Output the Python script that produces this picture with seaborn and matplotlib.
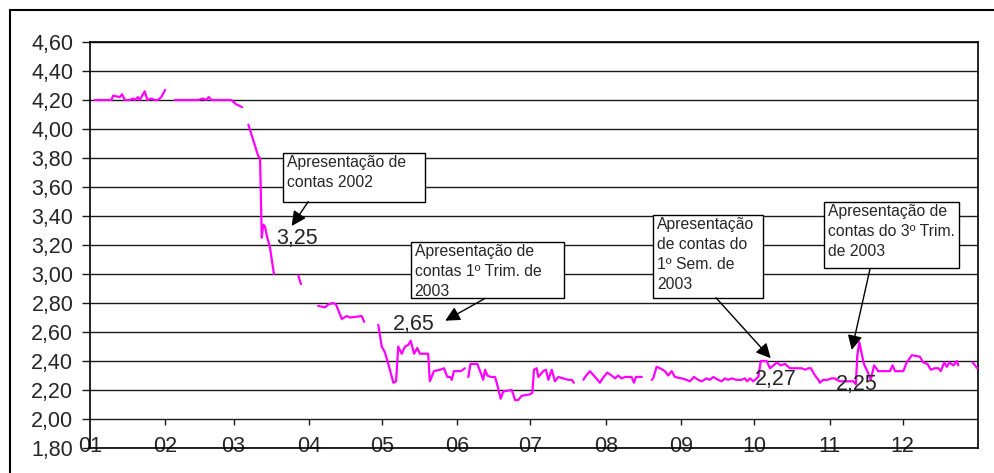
import numpy as np
import pandas as pd
import seaborn as sns
import matplotlib.pyplot as plt
from matplotlib.lines import Line2D
from matplotlib.patches import Rectangle

nan = np.nan

# day of year (0 = 1 Jan) and price; nan marks a gap in the series
days = [1.9, 8.8, 9.5, 12.2, 13.2, 14.3, 16.3, 17.7, 18.4, 19.7, 20.4, 22.5, 23.6, 25.2, 26.6, 27.9, 29.3, 30.9, nan,
        34.8, 44.4, 46.4, 47.8, 48.8, 49.9, 58.1, 60.1, 61.5, 62.5, nan,
        65.1, 69.2, 69.9, 70.6, 71.2, 71.9, 72.6, 74.0, 75.6, nan,
        85.6, 86.7, nan,
        93.8, 96.6, 97.9, 100.0, 101.1, 103.5, 105.5, 106.9, 111.7, 112.7, nan,
        118.5, 119.9, 121.2, 122.6, 124.7, 125.8, 126.7, 128.1, 129.5, 130.8, 131.8, 133.2, 134.5, 135.6, 139.0, 139.7,
        141.4, 143.9, 145.5, 146.9, 148.0, 148.7, 149.6, 152.4, 154.1, nan,
        155.5, 156.4, 159.2, 161.0, 161.6, 162.4, 163.3, 164.7, 166.5, 167.8, 168.8, 169.9, 173.3, 174.0, 174.7, 176.0,
        177.4, 180.8, 181.8, 182.5, 183.6, 184.3, 186.3, 187.4, 188.4, 189.8, 191.1, 192.5, 194.5, 196.6, 198.0, 198.9, nan,
        202.8, 203.5, 205.5, 207.6, 209.6, 210.7, 212.6, 214.4, 215.8, 217.1, 218.5, 219.9, 222.6, 223.6, 224.4, 226.8, nan,
        230.9, 231.5, 232.9, 234.3, 236.3, 237.7, 239.1, 240.4, 243.2, 245.2, 246.6, 248.3, 250.0, 251.4, 253.5, 254.8,
        256.2, 258.2, 259.6, 261.0, 262.3, 263.7, 265.8, 267.8, 269.2, 270.1, 271.3, 272.6, 274.0, 274.7, 275.7, 278.1,
        279.5, 280.9, 282.3, 283.9, 285.7, 287.0, 287.7, 289.8, 292.5, 293.9, 295.3, 296.3, 298.0, 299.4, 300.0, 301.4,
        303.0, 304.8, 306.2, 306.9, 308.3, 309.7, 313.7, 314.8, 315.4, 316.2, 317.2, 318.1, 319.5, 320.9, 322.3, 324.0,
        325.4, 328.8, 329.9, 330.9, 334.3, 335.7, 337.8, 341.1, 342.5, 344.2, 345.6, 347.3, 348.7, 349.7, 351.1, 352.2,
        353.2, 354.9, 356.3, 356.9, nan,
        362.8, 364.7]

price = [4.20, 4.20, 4.23, 4.22, 4.24, 4.20, 4.20, 4.21, 4.20, 4.22, 4.20, 4.26, 4.20, 4.21, 4.20, 4.20, 4.22, 4.27, nan,
         4.20, 4.20, 4.21, 4.20, 4.22, 4.20, 4.20, 4.17, 4.16, 4.15, nan,
         4.03, 3.81, 3.80, 3.25, 3.34, 3.33, 3.27, 3.18, 3.00, nan,
         2.99, 2.93, nan,
         2.78, 2.77, 2.79, 2.80, 2.79, 2.69, 2.71, 2.70, 2.71, 2.67, nan,
         2.65, 2.50, 2.46, 2.38, 2.25, 2.26, 2.50, 2.45, 2.50, 2.51, 2.54, 2.45, 2.49, 2.45, 2.45, 2.26,
         2.33, 2.34, 2.35, 2.29, 2.29, 2.27, 2.33, 2.33, 2.35, nan,
         2.29, 2.38, 2.38, 2.30, 2.27, 2.34, 2.30, 2.29, 2.29, 2.21, 2.14, 2.19, 2.20, 2.17, 2.13, 2.13,
         2.16, 2.17, 2.18, 2.34, 2.35, 2.29, 2.33, 2.34, 2.27, 2.34, 2.26, 2.29, 2.28, 2.27, 2.27, 2.25, nan,
         2.27, 2.29, 2.33, 2.29, 2.25, 2.28, 2.32, 2.30, 2.28, 2.30, 2.28, 2.29, 2.29, 2.25, 2.29, 2.29, nan,
         2.27, 2.28, 2.36, 2.35, 2.33, 2.30, 2.33, 2.29, 2.28, 2.27, 2.26, 2.29, 2.27, 2.26, 2.28, 2.27,
         2.29, 2.27, 2.26, 2.28, 2.27, 2.28, 2.27, 2.27, 2.28, 2.26, 2.28, 2.26, 2.28, 2.29, 2.40, 2.40,
         2.35, 2.37, 2.39, 2.37, 2.38, 2.36, 2.35, 2.35, 2.35, 2.34, 2.35, 2.35, 2.30, 2.27, 2.25, 2.27,
         2.27, 2.28, 2.28, 2.27, 2.26, 2.26, 2.26, 2.24, 2.44, 2.53, 2.45, 2.38, 2.33, 2.27, 2.37, 2.33,
         2.33, 2.33, 2.37, 2.33, 2.33, 2.39, 2.44, 2.43, 2.39, 2.38, 2.34, 2.35, 2.35, 2.33, 2.39, 2.36,
         2.39, 2.37, 2.40, 2.37, nan,
         2.39, 2.35]

month_start = [0, 31, 59, 90, 120, 151, 181, 212, 243, 273, 304, 334]
month_labels = ["01", "02", "03", "04", "05", "06", "07", "08", "09", "10", "11", "12"]
y_ticks = [1.8, 2.0, 2.2, 2.4, 2.6, 2.8, 3.0, 3.2, 3.4, 3.6, 3.8, 4.0, 4.2, 4.4, 4.6]
y_labels = [f"{v:.2f}".replace(".", ",") for v in y_ticks]

# annotation boxes: text, box (x0, y0, x1, y1) in data, arrow start, arrow tip
notes = [
    ("Apresentação de\ncontas 2002", (79.3, 3.497, 137.7, 3.834), (89.7, 3.499), (82.9, 3.331)),
    ("Apresentação de\ncontas 1º Trim. de\n2003", (131.8, 2.832, 194.9, 3.223), (162.4, 2.832), (146.0, 2.678)),
    ("Apresentação\nde contas do\n1º Sem. de\n2003", (231.4, 2.834, 276.6, 3.407), (257.3, 2.836), (279.8, 2.419)),
    ("Apresentação de\ncontas do 3º Trim.\nde 2003", (301.8, 3.039, 357.3, 3.499), (320.6, 3.034), (313.1, 2.476)),
]
value_labels = ["3,25", "2,65", "2,27", "2,25"]
value_pos = [(76.4, 3.248), (124.4, 2.655), (273.3, 2.269), (306.6, 2.241)]

sns.set_style("white")
plt.rcParams['font.family'] = ['Liberation Sans', 'DejaVu Sans']

df = pd.DataFrame({"day": days, "price": price})
df["seg"] = df["price"].isna().cumsum()
df = df.dropna()

fig = plt.figure(figsize=(9.95, 4.73), dpi=100)
ax = fig.add_axes([90 / 995, 1 - 448 / 473, (978 - 90) / 995, (448 - 42) / 473])

sns.lineplot(data=df, x="day", y="price", units="seg", estimator=None, color="#FF00FF", lw=1.6, ax=ax, zorder=3)

ax.set_xlim(0, 365)
ax.set_ylim(1.8, 4.6)
ax.set_yticks(y_ticks, y_labels)
ax.set_xticks(month_start, month_labels)
ax.yaxis.grid(True, color="#1a1a1a", lw=1.0)
ax.set_axisbelow(True)
ax.tick_params(axis="y", left=True, length=6, width=1.0, color="#1a1a1a", pad=6, labelsize=15.5)
ax.tick_params(axis="x", bottom=False, length=0, pad=-9, labelsize=15.5)
ax.vlines(month_start[1:], 1.959, 2.0, color="#1a1a1a", lw=1.0)
ax.set_xlabel("")
ax.set_ylabel("")
for s in ax.spines.values():
    s.set_color("black")
    s.set_linewidth(1.2)

for (txt, (x0, y0, x1, y1), start, tip) in notes:
    ax.add_patch(Rectangle((x0, y0), x1 - x0, y1 - y0, facecolor="white", edgecolor="black", lw=1.0, zorder=4))
    ax.text(x0 + 1.6, y1 - 0.013, txt, ha="left", va="top", fontsize=11.3, linespacing=1.42, zorder=5)
    ax.annotate("", xy=tip, xytext=start,
                arrowprops=dict(arrowstyle="-|>", color="black", lw=1.0, mutation_scale=22, shrinkA=0, shrinkB=0),
                zorder=5)

for lab, (x, y) in zip(value_labels, value_pos):
    ax.text(x, y, lab, ha="left", va="center", fontsize=15.5, zorder=5)

# outer chart frame
fig.add_artist(Line2D([10 / 995, 10 / 995], [0, 1 - 10 / 473], color="black", lw=1.5))
fig.add_artist(Line2D([10 / 995, 1], [1 - 10 / 473, 1 - 10 / 473], color="black", lw=1.5))

fig.savefig("out.png", dpi=100, facecolor="white")
